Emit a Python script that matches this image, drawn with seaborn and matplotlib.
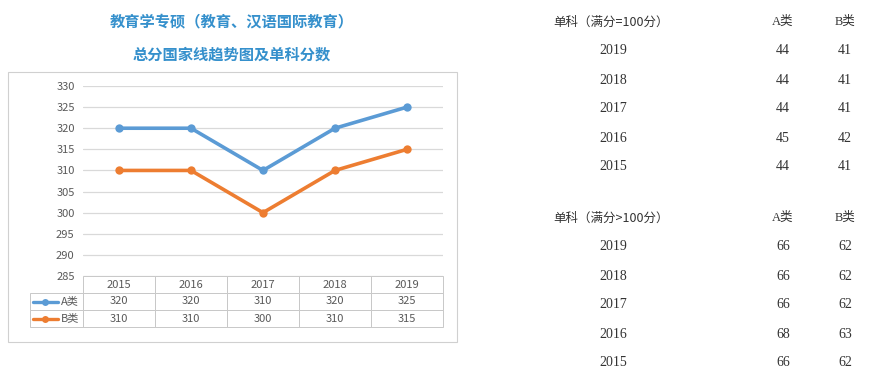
import pandas as pd
import seaborn as sns
import matplotlib.pyplot as plt
from matplotlib.patches import Rectangle
from matplotlib.lines import Line2D

# ===============================
# DATA
# ===============================
years = ["2015", "2016", "2017", "2018", "2019"]
score_a = [320, 320, 310, 320, 325]
score_b = [310, 310, 300, 310, 315]
series_names = ["A类", "B类"]

title_1 = "教育学专硕（教育、汉语国际教育）"
title_2 = "总分国家线趋势图及单科分数"

table_years = ["2019", "2018", "2017", "2016", "2015"]
sub100_header = "单科（满分=100分）"
sub100_a = [44, 44, 44, 45, 44]
sub100_b = [41, 41, 41, 42, 41]
over100_header = "单科（满分>100分）"
over100_a = [66, 66, 66, 68, 66]
over100_b = [62, 62, 62, 63, 62]

yticks = [285, 290, 295, 300, 305, 310, 315, 320, 325, 330]

# ===============================
# STYLE
# ===============================
sns.set_theme(style="white")
plt.rcParams['font.family'] = ['Noto Sans CJK SC', 'DejaVu Sans']

blue = "#5b9bd5"
orange = "#ed7d31"
title_color = "#3590cc"
grid_color = "#d9d9d9"
text_gray = "#595959"

W, H = 870, 380
fig = plt.figure(figsize=(W / 100, H / 100), dpi=100)

def fx(px):
    return px / W

def fy(py):
    return 1 - py / H

# outer chart frame
fig.patches.append(Rectangle((fx(8), fy(342)), fx(457) - fx(8), fy(72) - fy(342),
                             transform=fig.transFigure, fill=False,
                             edgecolor="#d0d0d0", linewidth=0.8))

# ===============================
# LINE CHART
# ===============================
ax = fig.add_axes([fx(83), fy(276), fx(443) - fx(83), fy(86) - fy(276)])

df = pd.DataFrame({
    "year": years * 2,
    "score": score_a + score_b,
    "type": [series_names[0]] * len(years) + [series_names[1]] * len(years),
})
sns.lineplot(data=df, x="year", y="score", hue="type", palette=[blue, orange],
             marker="o", markersize=6, markeredgewidth=0, linewidth=2.6,
             legend=False, ax=ax, zorder=3)

ax.set_ylim(285, 330)
ax.set_xlim(-0.5, len(years) - 0.5)
ax.set_yticks(yticks)
ax.set_xticks([])
ax.set_xlabel("")
ax.set_ylabel("")
ax.yaxis.grid(True, color=grid_color, linewidth=0.9)
for s in ax.spines.values():
    s.set_visible(False)
ax.tick_params(axis="y", length=0, labelsize=8, labelcolor=text_gray, pad=6)

# data table below the axes (legend column drawn by hand)
full_text = [[""] + years,
             [""] + [str(v) for v in score_a],
             [""] + [str(v) for v in score_b]]
x0 = (30 - 83) / 360
tbl = ax.table(cellText=full_text, cellLoc="center",
               bbox=[x0, -51 / 190, 1 - x0, 51 / 190])
tbl.auto_set_font_size(False)
legend_w = (83 - 30) / 360
for (r, c), cell in tbl.get_celld().items():
    cell.set_edgecolor("#c8c8c8")
    cell.set_linewidth(0.7)
    cell.get_text().set_fontsize(8)
    cell.get_text().set_color(text_gray)
    cell.set_width(legend_w if c == 0 else 1 / 5)
    if r == 0 and c == 0:
        cell.visible_edges = ""

# legend glyphs + labels in the table's first column
for i, (col, name) in enumerate(zip([blue, orange], series_names)):
    yc = fy(276 + 17 * (i + 1) + 8.5)
    fig.add_artist(Line2D([fx(33), fx(58)], [yc, yc], transform=fig.transFigure,
                          color=col, linewidth=2.4))
    fig.add_artist(Line2D([fx(45.5)], [yc], transform=fig.transFigure,
                          color=col, marker="o", markersize=5, markeredgewidth=0))
    fig.text(fx(61), yc, name, ha="left", va="center", fontsize=8,
             color=text_gray)

# titles
fig.text(fx(232), fy(22), title_1, ha="center", va="center", fontsize=11,
         fontweight="bold", color=title_color)
fig.text(fx(232), fy(55), title_2, ha="center", va="center", fontsize=11,
         fontweight="bold", color=title_color)

# ===============================
# RIGHT-HAND SCORE TABLES
# ===============================
right_font = ['Liberation Serif', 'Noto Sans CJK SC']
right_color = "#333333"

def score_table(top, header, col_a, col_b):
    fig.text(fx(553), fy(top), header, ha="left", va="center", fontsize=9,
             color=right_color, family=['Noto Sans CJK SC', 'DejaVu Sans'])
    fig.text(fx(783), fy(top), series_names[0], ha="center", va="center",
             fontsize=9, color=right_color, family=right_font)
    fig.text(fx(845), fy(top), series_names[1], ha="center", va="center",
             fontsize=9, color=right_color, family=right_font)
    for i, (yr, a, b) in enumerate(zip(table_years, col_a, col_b)):
        yy = top + 29 * (i + 1)
        fig.text(fx(613), fy(yy), yr, ha="center", va="center", fontsize=10,
                 color=right_color, family=right_font)
        fig.text(fx(783), fy(yy), str(a), ha="center", va="center", fontsize=10,
                 color=right_color, family=right_font)
        fig.text(fx(845), fy(yy), str(b), ha="center", va="center", fontsize=10,
                 color=right_color, family=right_font)

score_table(22, sub100_header, sub100_a, sub100_b)
score_table(218, over100_header, over100_a, over100_b)

plt.savefig("out.png", dpi=100, facecolor="white")
